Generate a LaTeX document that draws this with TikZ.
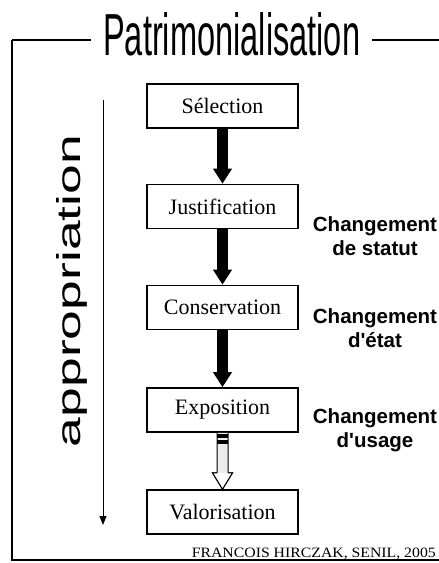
\documentclass[tikz,border=0pt]{standalone}
\usepackage{fontspec}
\usepackage{graphicx}
\setmainfont{Liberation Serif}
\newfontfamily\lsans{Liberation Sans}
\usetikzlibrary{arrows.meta,calc}
\tikzset{
  stepbox/.style={draw, line width=1.6pt, minimum width=151pt, minimum height=44pt, inner sep=0pt, font=\fontsize{22}{24}\selectfont},
  bigarrow/.style={line width=11pt, -{Triangle[width=18pt,length=15pt]}},
  sidelabel/.style={align=center, font=\lsans\bfseries\fontsize{20.5}{24}\selectfont, inner sep=0pt},
  frameline/.style={line width=1.5pt}
}
\begin{document}
\begin{tikzpicture}[x=1pt,y=-1pt]
\useasboundingbox (0,0) rectangle (439,563);
% title
\node[anchor=base west, inner sep=0pt] (title) at (103,55)
  {\resizebox{257pt}{43pt}{\lsans Patrimonialisation}};
\coordinate (tl) at (12,40);
\coordinate (tr) at (439,40);
\coordinate (bl) at (12,560);
\coordinate (br) at (439,560);
\draw[frameline] (tl) -- ([xshift=-12pt]title.west |- tl);
\draw[frameline] ([xshift=12pt]title.east |- tr) -- (tr);
\draw[frameline] (tl) -- (bl) -- (br);
% vertical text
\node[rotate=90, inner sep=0pt] (appr) at (72,291)
  {\resizebox{312pt}{24pt}{\lsans\fontsize{40}{40}\selectfont appropriation}};
\coordinate (atop) at (103,100);
\coordinate (abot) at (103,525);
\draw[line width=1pt, -{Triangle[width=7pt,length=9pt]}] (atop) -- (abot);
% boxes
\node[stepbox] (sel) at (222.5,106) {Sélection};
\node[stepbox] (jus) at (222.5,206.5) {Justification};
\node[stepbox] (con) at (222.5,307.5) {Conservation};
\node[stepbox] (exp) at (222.5,410) {Exposition};
\node[stepbox] (val) at (222.5,512) {Valorisation};
% arrows
\draw[bigarrow] (sel) -- (jus);
\draw[bigarrow] (jus) -- (con);
\draw[bigarrow] (con) -- (exp);
% hollow arrow
\draw[line width=1pt, fill=gray!15]
  ($(exp.south)+(-5.5,0)$) -- ($(exp.south)+(-5.5,40)$) -- ($(exp.south)+(-10,40)$)
  -- (val.north) -- ($(exp.south)+(10,40)$) -- ($(exp.south)+(5.5,40)$)
  -- ($(exp.south)+(5.5,0)$);
\fill[white] ($(exp.south)+(-10,40)$) -- (val.north) -- ($(exp.south)+(10,40)$) -- cycle;
\draw[line width=1pt] ($(exp.south)+(-5.5,40)$) -- ($(exp.south)+(-10,40)$)
  -- (val.north) -- ($(exp.south)+(10,40)$) -- ($(exp.south)+(5.5,40)$);
\fill ($(exp.south)+(-5.5,1)$) rectangle ($(exp.south)+(5.5,5)$);
\fill ($(exp.south)+(-5.5,7.5)$) rectangle ($(exp.south)+(5.5,11)$);
% side labels
\node[sidelabel] (l1) at (375,236) {Changement\\de statut};
\node[sidelabel] (l2) at (375,328) {Changement\\d'état};
\node[sidelabel] (l3) at (375,430) {Changement\\d'usage};
% footer
\node[anchor=base east, inner sep=0pt] (foot) at (436,557)
  {\resizebox{244pt}{9.5pt}{\fontsize{13}{13}\selectfont FRANCOIS HIRCZAK, SENIL, 2005}};
\end{tikzpicture}
\end{document}
